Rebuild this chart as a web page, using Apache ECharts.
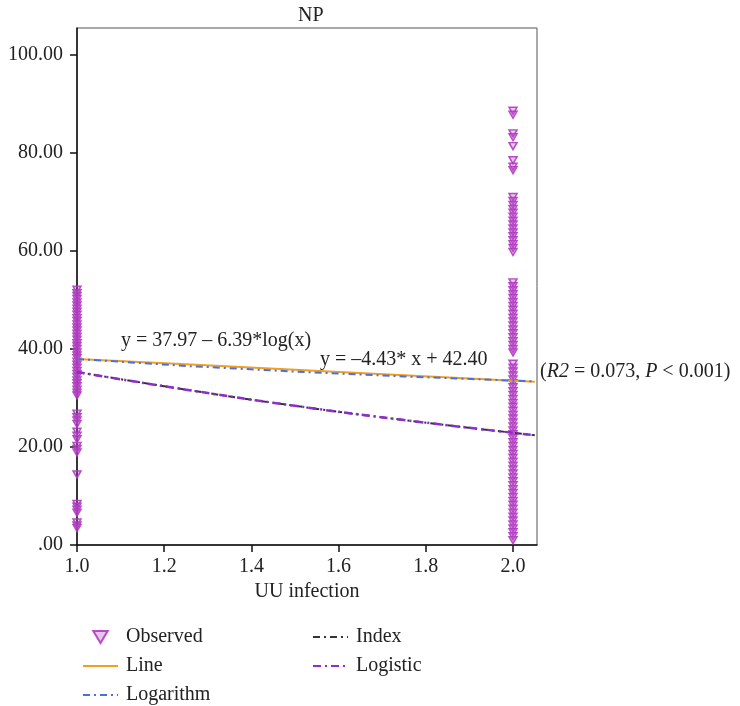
<!DOCTYPE html>
<html>
<head>
<meta charset="utf-8">
<script src="https://cdn.jsdelivr.net/npm/echarts@6/dist/echarts.min.js"></script>
<style>
html,body{margin:0;padding:0;background:#fff;}
#chart{width:740px;height:706px;}
</style>
</head>
<body>
<div id="chart"></div>
<script>
// ---- data ----
var chartTitle = 'NP';
var xAxisName = 'UU infection';
var yTicks = [0, 20, 40, 60, 80, 100];
var xTicks = [1.0, 1.2, 1.4, 1.6, 1.8, 2.0];

// observed values at UU infection = 1
var obsGroup1 = [52.1, 51.4, 50.8, 50.2, 49.5, 48.9, 48.2, 47.6, 47.0, 46.3, 45.7, 45.0, 44.4, 43.8, 43.1,
  42.5, 41.9, 41.2, 40.6, 40.0, 39.3, 38.7, 38.1, 37.4, 36.8, 36.2, 35.5, 34.9, 34.3, 33.6, 33.0, 32.4,
  31.7, 31.1, 30.5, 26.8, 26.1, 25.4, 24.7, 23.1, 22.3, 21.6, 20.2, 19.6, 18.9, 14.4, 8.4, 7.8, 7.2, 6.6,
  4.6, 4.0, 3.5];
// observed values at UU infection = 2
var obsGroup2 = [88.6, 87.8, 84.0, 83.2, 81.4, 78.5, 77.2, 76.5, 71.0, 70.2, 69.4, 68.6, 67.8, 67.0, 66.2,
  65.4, 64.6, 63.8, 63.0, 62.2, 61.4, 60.6, 59.8, 53.6, 52.8, 52.0, 51.2, 50.4, 49.6, 48.8, 48.0, 47.2,
  46.4, 45.6, 44.8, 44.0, 43.2, 42.4, 41.6, 40.8, 40.0, 39.3, 37.0, 36.2, 35.4, 34.6, 33.8, 33.0, 32.2,
  31.4, 30.6, 29.8, 29.0, 28.2, 27.4, 26.6, 25.8, 25.0, 24.2, 23.4, 22.6, 21.8, 21.0, 20.2, 19.4, 18.6,
  17.8, 17.0, 16.2, 15.4, 14.6, 13.8, 13.0, 12.2, 11.4, 10.6, 9.8, 9.0, 8.2, 7.4, 6.6, 5.8, 5.0, 4.2,
  3.4, 2.6, 1.8, 1.0];

// fitted curves
var fitX = [1.0, 1.25, 1.5, 1.75, 2.05];
var lineFit = [37.97, 36.86, 35.76, 34.65, 33.32];
var logFit = [37.97, 36.54, 35.38, 34.39, 33.38];
var indexFit = [35.3, 31.7, 28.4, 25.5, 22.4];
var logisticFit = [35.3, 31.7, 28.4, 25.5, 22.4];

var eqLog = 'y = 37.97 \u2013 6.39*log(x)';
var eqLine = 'y = \u20134.43* x + 42.40';

// ---- build ----
function pairs(xs, ys) { return xs.map(function (x, i) { return [x, ys[i]]; }); }
var observed = obsGroup1.map(function (v) { return [1, v]; })
  .concat(obsGroup2.map(function (v) { return [2, v]; }));

var FONT = 'Liberation Serif';
var FS = 20;
var hideSym = { opacity: 0 };
var chart = echarts.init(document.getElementById('chart'));
chart.setOption({
  animation: false,
  title: {
    text: chartTitle, left: 293, top: 1,
    textStyle: { fontFamily: FONT, fontSize: FS, fontWeight: 'normal', color: '#222' }
  },
  grid: { left: 77, right: 203, top: 28, bottom: 161, show: true, borderColor: '#555', borderWidth: 1, backgroundColor: 'transparent' },
  xAxis: {
    type: 'value', min: 1, max: 2.055, interval: 0.2,
    name: xAxisName, nameLocation: 'middle', nameGap: 37,
    nameTextStyle: { fontFamily: FONT, fontSize: FS, color: '#222' },
    axisLine: { lineStyle: { color: '#111', width: 1.5 } },
    axisTick: { show: true, length: 7, lineStyle: { color: '#111', width: 1.5 } },
    splitLine: { show: false },
    axisLabel: {
      margin: 12, fontFamily: FONT, fontSize: FS, color: '#222', showMaxLabel: false,
      formatter: function (v) { return v.toFixed(1); }
    }
  },
  yAxis: {
    type: 'value', min: 0, max: 105.5, interval: 20,
    axisLine: { show: true, lineStyle: { color: '#111', width: 1.5 } },
    axisTick: { show: true, length: 7, lineStyle: { color: '#111', width: 1.5 } },
    splitLine: { show: false },
    axisLabel: {
      margin: 14, fontFamily: FONT, fontSize: FS, color: '#222', showMaxLabel: false,
      formatter: function (v) { return v === 0 ? '.00' : v.toFixed(2); }
    }
  },
  legend: [
    {
      left: 77, top: 622, height: 100, orient: 'vertical', itemWidth: 35, itemHeight: 12, itemGap: 9,
      textStyle: { fontFamily: FONT, fontSize: FS, color: '#222', padding: [0, 0, 0, 3] },
      data: [
        { name: 'Observed', icon: 'path://M0,0 L12,0 L6,10 Z' },
        { name: 'Line', itemStyle: hideSym },
        { name: 'Logarithm', itemStyle: hideSym }
      ]
    },
    {
      left: 307, top: 622, height: 100, orient: 'vertical', itemWidth: 35, itemHeight: 12, itemGap: 9,
      textStyle: { fontFamily: FONT, fontSize: FS, color: '#222', padding: [0, 0, 0, 3] },
      data: [{ name: 'Index', itemStyle: hideSym }, { name: 'Logistic', itemStyle: hideSym }]
    }
  ],
  graphic: [
    { type: 'text', left: 121, top: 331, z: 100,
      style: { text: eqLog, font: FS + 'px "Liberation Serif"', fill: '#222' } },
    { type: 'text', left: 320, top: 350, z: 100,
      style: { text: eqLine, font: FS + 'px "Liberation Serif"', fill: '#222' } },
    { type: 'text', left: 540, top: 362, z: 100,
      style: {
        text: '({i|R2} = 0.073, {i|P} < 0.001)',
        font: FS + 'px "Liberation Serif"', fill: '#222',
        rich: { i: { fontStyle: 'italic', fontFamily: FONT, fontSize: FS, fill: '#222' } }
      } }
  ],
  series: [
    {
      name: 'Observed', type: 'scatter', data: observed,
      symbol: 'triangle', symbolRotate: 180, symbolSize: [8, 7],
      itemStyle: { color: 'rgba(185,70,200,0.35)', borderColor: '#b03cc0', borderWidth: 1.5, opacity: 0.9 },
      z: 3
    },
    {
      name: 'Line', type: 'line', data: pairs(fitX, lineFit), showSymbol: false, symbol: 'none',
      lineStyle: { color: '#f0a01e', width: 2 }, itemStyle: { color: '#f0a01e' }, z: 4
    },
    {
      name: 'Logarithm', type: 'line', data: pairs(fitX, logFit), showSymbol: false, symbol: 'none',
      lineStyle: { color: '#4b6fe0', width: 2, type: [7, 4, 2, 4] }, itemStyle: { color: '#4b6fe0' }, z: 5
    },
    {
      name: 'Index', type: 'line', data: pairs(fitX, indexFit), showSymbol: false, symbol: 'none', smooth: true,
      lineStyle: { color: '#333333', width: 2, type: [7, 4, 2, 4] }, itemStyle: { color: '#333333' }, z: 4
    },
    {
      name: 'Logistic', type: 'line', data: pairs(fitX, logisticFit), showSymbol: false, symbol: 'none', smooth: true,
      lineStyle: { color: '#8e2ccc', width: 2.5, type: [8, 4, 2, 4] }, itemStyle: { color: '#8e2ccc' }, z: 5
    }
  ]
});
</script>
</body>
</html>
